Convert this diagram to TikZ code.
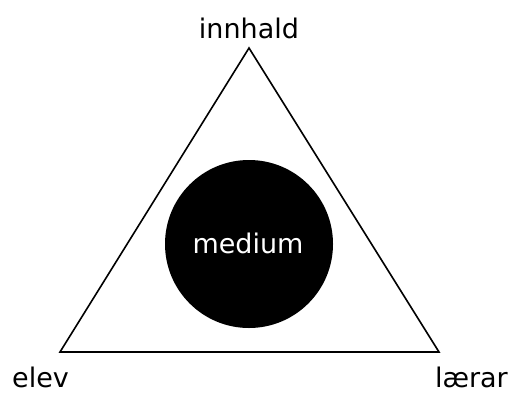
\documentclass[tikz,border=0pt]{standalone}
\usepackage{fontspec}
\setmainfont{DejaVu Sans}
\begin{document}
\begin{tikzpicture}[x=1pt,y=1pt,
  lbl/.style={font=\fontsize{27}{32}\selectfont, inner sep=0pt, anchor=base}]
\useasboundingbox (0,0) rectangle (510,392);
\fill[white] (0,0) rectangle (510,392);
\coordinate (top) at (249,344);
\coordinate (bl) at (60,40);
\coordinate (br) at (439,40);
\draw[line width=1.6pt, line join=miter] (top) -- (br) -- (bl) -- cycle;
\node[circle, fill=black, minimum size=168pt, inner sep=0pt] (med) at (249,148) {};
\node[lbl, text=white] (medt) at (248,139) {medium};
\node[lbl] (inn) at (249,354) {innhald};
\node[lbl, anchor=base west] (elev) at (12,5) {elev};
\node[lbl, anchor=base east] (larar) at (508,5) {lærar};
\end{tikzpicture}
\end{document}
